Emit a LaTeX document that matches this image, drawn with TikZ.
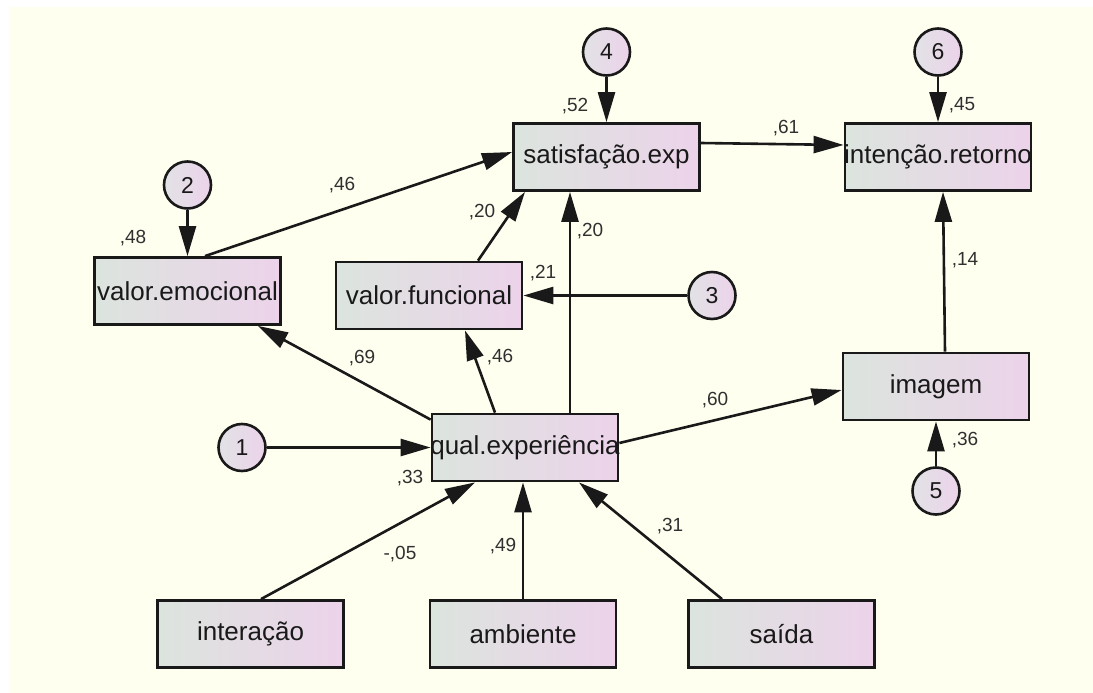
\documentclass[tikz,border=0pt]{standalone}
\usepackage{fontspec}
\setmainfont{Liberation Sans}
\usetikzlibrary{arrows.meta,calc}
\definecolor{bgc}{RGB}{255,255,240}
\definecolor{boxL}{RGB}{220,228,222}
\definecolor{boxR}{RGB}{236,211,234}
\definecolor{cirL}{RGB}{226,226,230}
\definecolor{cirR}{RGB}{236,211,234}
\definecolor{ink}{RGB}{25,25,25}
\begin{document}
\begin{tikzpicture}[x=1pt,y=-1pt,
  var/.style={draw=ink, line width=2.8pt, left color=boxL, right color=boxR,
    minimum width=186pt, minimum height=67pt, inner sep=0pt,
    font=\fontsize{26}{30}\selectfont, text=ink},
  err/.style={circle, draw=ink, line width=2.6pt, left color=cirL, right color=cirR,
    minimum size=47pt, inner sep=0pt, font=\fontsize{23}{27}\selectfont, text=ink},
  conn/.style={draw=ink, line width=2.6pt, -{Triangle[length=30pt,width=17pt]}},
  coef/.style={font=\fontsize{19}{22}\selectfont, inner sep=0pt, text=ink!90}
]
\useasboundingbox (0,0) rectangle (1093,693);
\fill[white] (0,0) rectangle (1093,693);
\fill[bgc] (9,7) rectangle (1093,693);

% observed / latent variables
\node[var] (sat)   at (606.5,157)  {satisfação.exp};
\node[var] (int)   at (938,157)    {\makebox[0pt]{intenção.retorno}};
\node[var] (emo)   at (187.5,291)  {\makebox[0pt]{valor.emocional}};
\node[var] (fun)   at (429,295.5)  {valor.funcional};
\node[var] (qual)  at (525,447.5)  {\makebox[0pt]{qual.experiência}};
\node[var] (img)   at (936,386.5)  {imagem};
\node[var] (inter) at (250.5,634)  {interação};
\node[var] (amb)   at (523,634)    {ambiente};
\node[var] (sai)   at (781.5,634)  {saída};

% error terms
\node[err] (e1) at (242,447.5) {1};
\node[err] (e2) at (187.5,185) {2};
\node[err] (e3) at (712,295.5) {3};
\node[err] (e4) at (606.5,52)  {4};
\node[err] (e5) at (936,491)   {5};
\node[err] (e6) at (938,52)    {6};

% connectors
\draw[conn] (e4.south) -- (sat.north);
\draw[conn] (e6.south) -- (int.north);
\draw[conn] (e2.south) -- (emo.north);
\draw[conn] ($(emo.north)+(17.5,0)$) -- ($(sat.west)+(0,-5)$);
\draw[conn] ($(fun.north)+(49,0)$) -- ($(sat.south)+(-81.5,0)$);
\draw[conn] ($(qual.north)+(45,0)$) -- ($(sat.south)+(-36.5,0)$);
\draw[conn] (e3.west) -- (fun.east);
\draw[conn] ($(qual.north west)+(0,7)$) -- ($(emo.south)+(70.5,0)$);
\draw[conn] ($(qual.north)+(-30,0)$) -- ($(fun.south)+(36,0)$);
\draw[conn] (e1.east) -- (qual.west);
\draw[conn] ($(qual.east)+(0,-4.5)$) -- ($(img.west)+(0,3.5)$);
\draw[conn] ($(img.north)+(9,0)$) -- ($(int.south)+(5,0)$);
\draw[conn] (e5.north) -- (img.south);
\draw[conn] ($(sat.east)+(0,-14)$) -- ($(int.west)+(0,-12)$);
\draw[conn] ($(inter.north)+(10.5,0)$) -- ($(qual.south)+(-50,0)$);
\draw[conn] (amb.north) -- (amb.north |- qual.south);
\draw[conn] ($(sai.north)+(-59.5,0)$) -- ($(qual.south)+(54,0)$);

% coefficients
\node[coef] (k52) at (575,106) {,52};
\node[coef] (k45) at (962,105) {,45};
\node[coef] (k61) at (786,128) {,61};
\node[coef] (k48) at (133,238) {,48};
\node[coef] (k46a) at (342,185) {,46};
\node[coef] (k20a) at (482,212) {,20};
\node[coef] (k20b) at (590,231) {,20};
\node[coef] (k21) at (543,273) {,21};
\node[coef] (k69) at (362,358) {,69};
\node[coef] (k46b) at (500,357) {,46};
\node[coef] (k60) at (715,400) {,60};
\node[coef] (k14) at (965,260) {,14};
\node[coef] (k36) at (965,440) {,36};
\node[coef] (k33) at (410,478) {,33};
\node[coef] (k05) at (400,554) {-,05};
\node[coef] (k49) at (503,546) {,49};
\node[coef] (k31) at (670,526) {,31};
\end{tikzpicture}
\end{document}
